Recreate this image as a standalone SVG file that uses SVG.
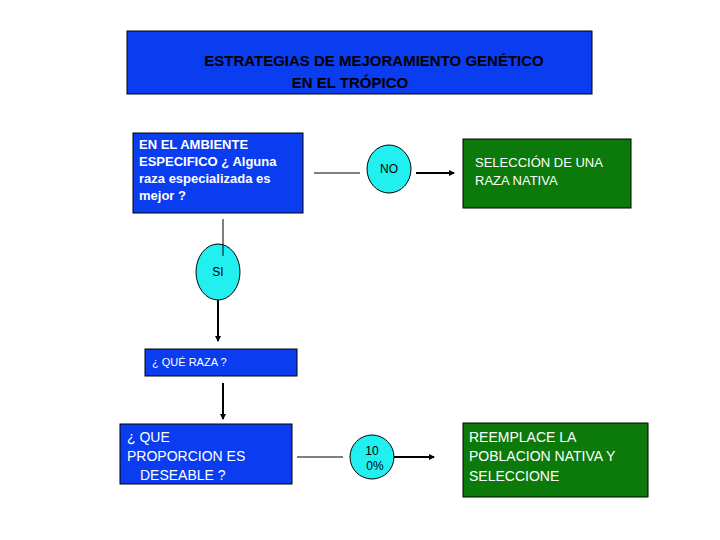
<svg xmlns="http://www.w3.org/2000/svg" width="720" height="540" viewBox="0 0 720 540">
<style>
.b{fill:#0a3cf0;stroke:#000;stroke-width:1}
.g{fill:#0b7a0b;stroke:#000;stroke-width:1}
.c{fill:#22f0f0;stroke:#000;stroke-width:1}
.w{fill:#fff;font-family:"Liberation Sans",Arial,sans-serif;font-size:14px}
.wb{fill:#fff;font-family:"Liberation Sans",Arial,sans-serif;font-size:13px;font-weight:bold}
.k{fill:#000;font-family:"Liberation Sans",Arial,sans-serif;font-size:15px;font-weight:bold}
.t{fill:#fff;font-family:"Liberation Sans",Arial,sans-serif;font-size:11px}
.ct{fill:#000;font-family:"Liberation Sans",Arial,sans-serif;font-size:12px}
.l{stroke:#000;stroke-width:1;fill:none}
.a{stroke:#000;stroke-width:2;fill:none;marker-end:url(#ah)}
</style>
<defs><marker id="ah" markerWidth="6" markerHeight="6" refX="5" refY="3" orient="auto" markerUnits="userSpaceOnUse"><path d="M0,0L6,3L0,6z" fill="#000"/></marker></defs>
<g id="title"><rect x="127" y="31" width="465" height="63" class="b"/><text x="374" y="66" text-anchor="middle" class="k">ESTRATEGIAS DE MEJORAMIENTO GENÉTICO</text><text x="350" y="88" text-anchor="middle" class="k">EN EL TRÓPICO</text></g>
<g id="q1"><rect x="133" y="133" width="170" height="80" class="b"/><text x="139" y="149" class="wb">EN EL AMBIENTE</text><text x="139" y="166" class="wb">ESPECIFICO ¿ Alguna</text><text x="139" y="183" class="wb">raza especializada  es</text><text x="139" y="200" class="wb">mejor  ?</text></g>
<g id="no"><ellipse cx="389" cy="169" rx="22" ry="24" class="c"/><text x="389" y="173" text-anchor="middle" class="ct">NO</text></g>
<g id="nat"><rect x="463" y="139" width="168" height="69" class="g"/><text x="475" y="167" class="w" style="font-size:13px">SELECCIÓN DE UNA</text><text x="475" y="185" class="w" style="font-size:13px">RAZA NATIVA</text></g>
<g id="si"><ellipse cx="218" cy="272" rx="22" ry="28" class="c"/><text x="218" y="276" text-anchor="middle" class="ct">SI</text></g>
<g id="raza"><rect x="145" y="349" width="152" height="27" class="b"/><text x="152" y="366" class="t">¿ QUÉ RAZA  ?</text></g>
<g id="prop"><rect x="120" y="424" width="172" height="60" class="b"/><text x="127" y="442" class="w">¿ QUE</text><text x="127" y="461" class="w">PROPORCION ES</text><text x="140" y="480" class="w">DESEABLE ?</text></g>
<g id="pct"><circle cx="372" cy="457" r="22" class="c"/><text x="372" y="455" text-anchor="middle" class="ct">10</text><text x="375" y="470" text-anchor="middle" class="ct">0%</text></g>
<g id="reem"><rect x="463" y="423" width="185" height="74" class="g"/><text x="469" y="442" class="w">REEMPLACE   LA</text><text x="469" y="461" class="w">POBLACION NATIVA Y</text><text x="469" y="481" class="w">SELECCIONE</text></g>
<g id="connectors">
<line x1="314" y1="173" x2="360" y2="173" class="l"/>
<line x1="416" y1="173" x2="454" y2="173" class="a"/>
<line x1="223" y1="219" x2="223" y2="256" class="l"/>
<line x1="218" y1="300" x2="218" y2="341" class="a"/>
<line x1="223" y1="383" x2="223" y2="419" class="a"/>
<line x1="297" y1="457" x2="343" y2="457" class="l"/>
<line x1="394" y1="457" x2="434" y2="457" class="a"/>
</g>
</svg>
